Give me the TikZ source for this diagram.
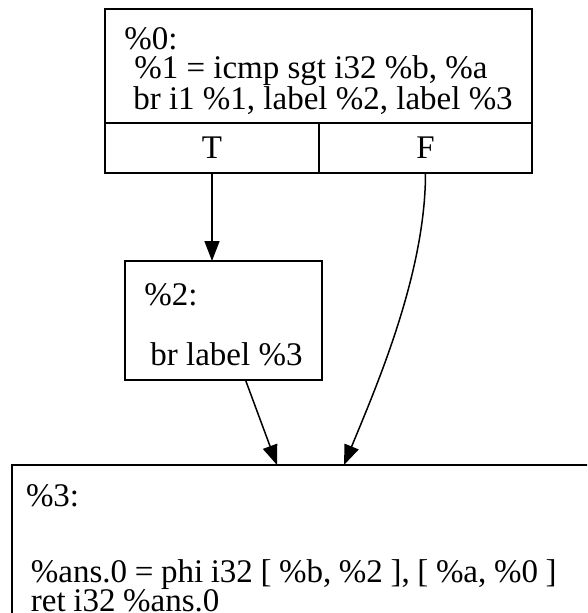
\documentclass[tikz,border=0pt]{standalone}
\usepackage{fontspec}
\setmainfont{Liberation Serif}
\usetikzlibrary{arrows.meta,positioning}
\newcommand{\ind}[1]{\hspace*{#1pt}}
\newcommand{\topgap}[1]{\rule{0pt}{#1pt}}
\newcommand{\tightsp}{\spaceskip=7.6pt\relax}

\begin{document}
\begin{tikzpicture}[x=1pt,y=-1pt,>={Triangle[length=20pt,width=15pt]},
    blk/.style={draw,line width=1.5pt,rectangle,inner sep=0pt,outer sep=0pt,align=left,font=\fontsize{33}{29}\selectfont},
    cell/.style={draw,line width=1.5pt,rectangle,inner sep=0pt,outer sep=0pt,font=\fontsize{33}{29}\selectfont},
    flow/.style={line width=1.5pt,->}]
    \useasboundingbox (0,0) rectangle (587,613);
    \clip (0,0) rectangle (587,613);

    % block %0 with its two branch cells
    \node[blk,minimum width=427,minimum height=114] (bb0) at (318.5,66) {\topgap{33}\%0:\\\ind{10}\%1 = icmp sgt i32 \%b, \%a\\\ind{9}br i1 \%1, label \%2, label \%3};
    \node[cell,minimum width=214,minimum height=50,anchor=north west] (bb0T) at (bb0.south west) {T};
    \node[cell,minimum width=213,minimum height=50,anchor=north west] (bb0F) at (bb0T.north east) {F};

    \node[blk,minimum width=197,minimum height=119] (bb2) at (223.5,320.5) {\topgap{30}\%2:\\[31pt]\ind{6}br label \%3};
    \node[blk,anchor=north west,inner xsep=14pt,inner ysep=20pt,text width=580pt] (bb3) at (12,465) {\tightsp\%3:\\[47pt]\ind{5}\%ans.0 = phi i32 [ \%b, \%2 ], [ \%a, \%0 ]\\\ind{5}ret i32 \%ans.0};

    \draw[flow] (bb0T) -- (bb0T |- bb2.north);
    \draw[flow] ([xshift=22]bb2.south) -- ([xshift=265]bb3.north west);
    \draw[flow] (bb0F.south) .. controls +(0,100) and +(33,-80) .. ([xshift=332]bb3.north west);

\end{tikzpicture}
\end{document}
